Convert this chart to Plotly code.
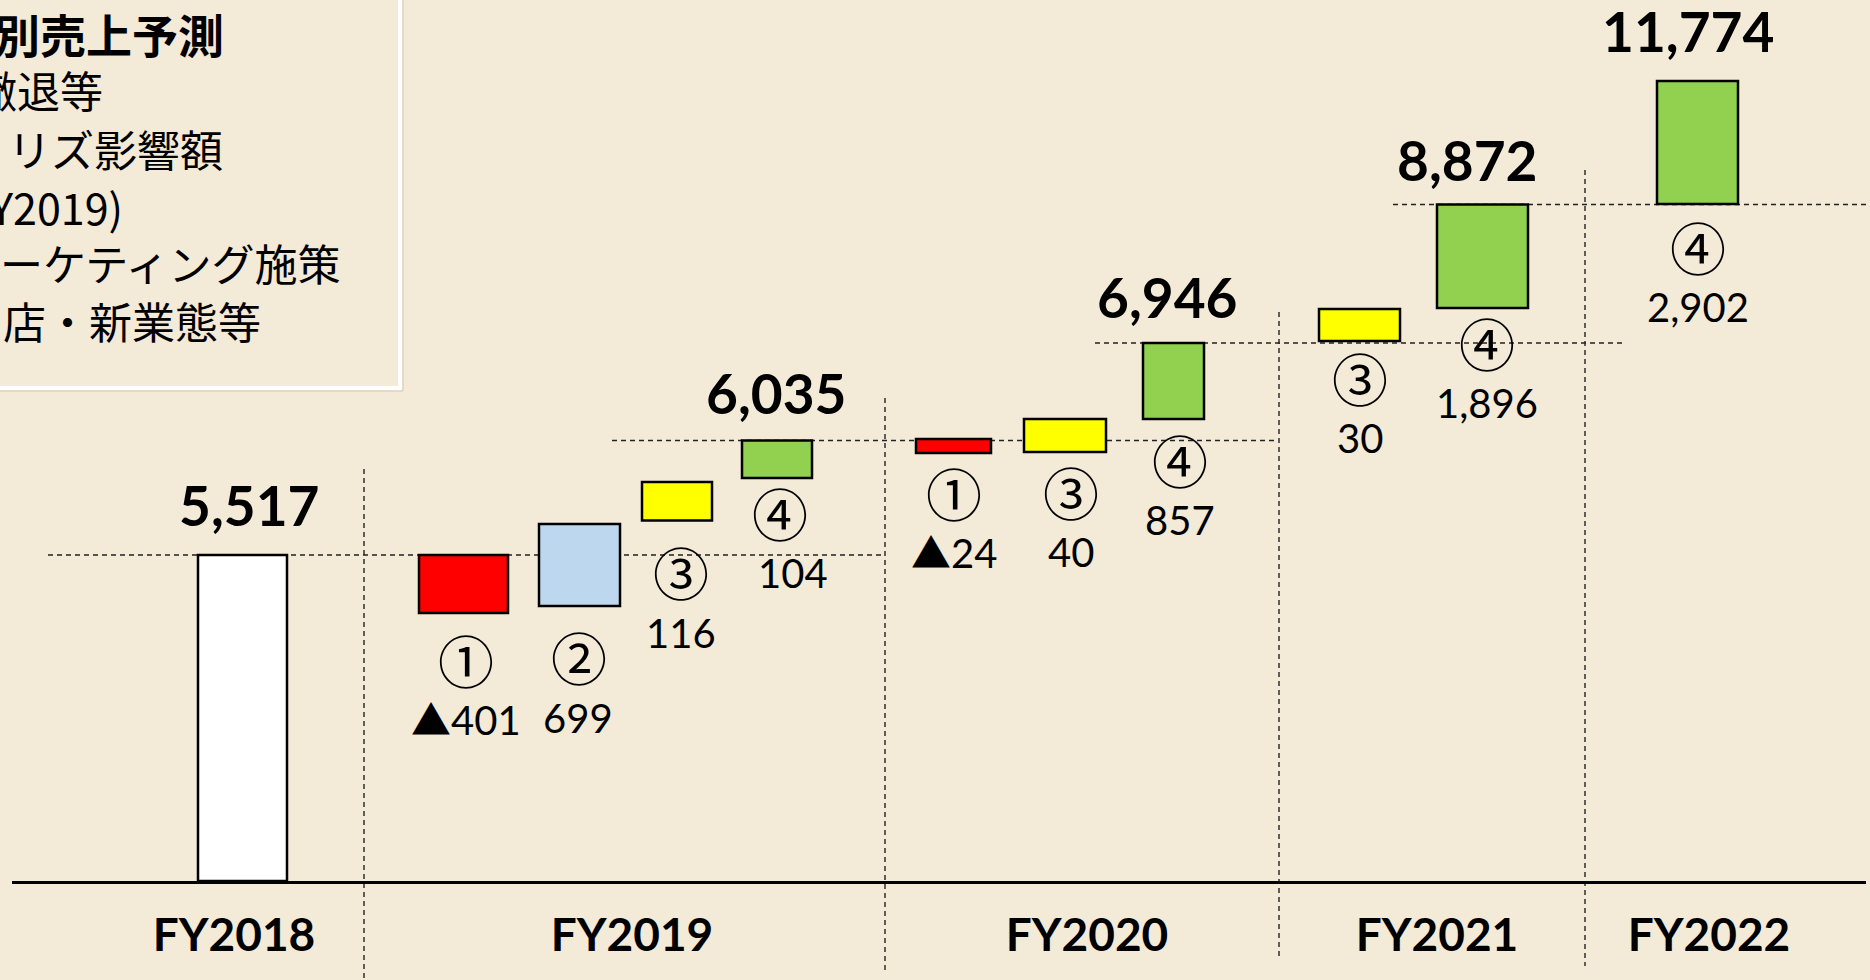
import plotly.graph_objects as go

# ---------------- data ----------------
groups = ["FY2018", "FY2019", "FY2020", "FY2021", "FY2022"]
totals = [5517, 6035, 6946, 8872, 11774]

step_group = ["FY2018", "FY2019", "FY2019", "FY2019", "FY2019",
              "FY2020", "FY2020", "FY2020", "FY2021", "FY2021", "FY2022"]
step_factor = ["", "①", "②", "③", "④", "①", "③", "④", "③", "④", "④"]
step_value = [5517, -401, 699, 116, 104, -24, 40, 857, 30, 1896, 2902]

# The slide is schematic (not to scale): bar extents as drawn
# on a scale calibrated by the FY2018 bar (baseline = 0, its top = 5,517)
drawn_low = [0, 4535, 4654, 6101, 6820, 7243, 7260, 7818, 9138, 9697, 11457]
drawn_high = [5517, 5517, 6042, 6752, 7455, 7480, 7818, 9105, 9680, 11448, 13538]

factor_colors = {"": "#FFFFFF", "①": "#FF0000", "②": "#BDD7EE",
                 "③": "#FFFF00", "④": "#92D050"}

legend_lines = ["<b>要因別売上予測</b>", "①撤退等", "リズ影響額", "(FY2019)",
                "③マーケティング施策", "④新規出店・新業態等"]

# ---------------- layout constants (pixels) ----------------
W, H = 1870, 980
ML, MR, MT, MB = 12, 4, 0, 99
PLOT_H = H - MT - MB
SCALE = drawn_high[0] / 326.0          # data units per pixel
def px2paper_x(px): return (px - ML) / (W - ML - MR)
def px2paper_y(py): return (H - MB - py) / PLOT_H

bar_cx = [242.5, 463.5, 579.5, 677, 777, 953.5, 1065, 1173.5, 1359.5, 1482.5, 1697.5]
bar_w = [89, 89, 81, 70, 70, 75, 82, 61, 81, 91, 81]
group_cx = [234, 632, 1087, 1437, 1709]

total_bar = [0, 4, 7, 9, 10]
total_cx = [249, 776, 1167, 1467, 1688]
total_shift = [50, 47.5, 46, 44.5, 50]

circ_dx = [0, 2.5, -0.5, 4, 3, 0, 6, 6.5, 0.5, 4.5, 0]
circ_off = [0, 45, 50, 50.5, 33, 38, 38, 39, 35, 33, 41]
val_dx = [0, 2.5, -1.5, 4, 16, 0.5, 6, 6.5, 0.5, 4.5, 0]
VAL_GAP = 62

connectors = [(0, 48, 885), (4, 612, 1277), (7, 1095, 1624), (9, 1393, 1870)]
separators = [(364, 469, 980), (885, 398, 972), (1279, 312, 957), (1585, 170, 966)]

legend_x = [-100, -71, 6, -50, -88, -171]
legend_y = [33, 89, 148, 206, 262, 320]
legend_size = [46, 43, 43, 43, 43, 43]

BG = "#F3EAD8"
NUM_FONT = "Lato, 'Noto Sans CJK JP', sans-serif"
JP_FONT = "'Noto Sans CJK JP', sans-serif"

fig = go.Figure()

fig.add_trace(go.Bar(
    x=bar_cx,
    y=[h - l for h, l in zip(drawn_high, drawn_low)],
    base=drawn_low,
    width=bar_w,
    marker=dict(color=[factor_colors[f] for f in step_factor],
                line=dict(color="black", width=2.5)),
    hoverinfo="skip",
    showlegend=False,
))

shapes = []
# dashed connector lines at each year's total level
for bi, x0, x1 in connectors:
    shapes.append(dict(type="line", xref="x", yref="y", layer="below",
                       x0=x0, x1=x1, y0=drawn_high[bi], y1=drawn_high[bi],
                       line=dict(color="#222222", width=1.4, dash="5px,4px")))
# dashed vertical year separators
for x, ytop, ybot in separators:
    shapes.append(dict(type="line", xref="paper", yref="paper", layer="below",
                       x0=px2paper_x(x), x1=px2paper_x(x),
                       y0=px2paper_y(ytop), y1=px2paper_y(ybot),
                       line=dict(color="#222222", width=1.4, dash="5px,4px")))
# legend box (partly off the slide)
shapes.append(dict(type="rect", xref="paper", yref="paper", layer="below",
                   x0=px2paper_x(-30), x1=px2paper_x(403), y0=px2paper_y(391), y1=px2paper_y(-30),
                   line=dict(color="#D2CABA", width=1)))
shapes.append(dict(type="rect", xref="paper", yref="paper", layer="below",
                   x0=px2paper_x(-30), x1=px2paper_x(400), y0=px2paper_y(388), y1=px2paper_y(-30),
                   line=dict(color="#FFFFFF", width=4)))

annotations = []
# totals
for g, t, bi, cx, sh in zip(groups, totals, total_bar, total_cx, total_shift):
    annotations.append(dict(x=cx, y=drawn_high[bi], xref="x", yref="y", yshift=sh,
                            text=f"<b>{t:,}</b>", showarrow=False,
                            xanchor="center", yanchor="middle",
                            font=dict(family=NUM_FONT, size=55, color="black")))
# factor number + change value
for i, (f, v) in enumerate(zip(step_factor, step_value)):
    if f == "":
        continue
    annotations.append(dict(x=bar_cx[i] + circ_dx[i], y=drawn_low[i], xref="x", yref="y",
                            yshift=-circ_off[i], text=f, showarrow=False,
                            xanchor="center", yanchor="middle",
                            font=dict(family=JP_FONT, size=56, color="black")))
    vtxt = f"▲{abs(v):,}" if v < 0 else f"{v:,}"
    annotations.append(dict(x=bar_cx[i] + val_dx[i], y=drawn_low[i], xref="x", yref="y",
                            yshift=-(circ_off[i] + VAL_GAP), text=vtxt, showarrow=False,
                            xanchor="center", yanchor="middle",
                            font=dict(family=NUM_FONT, size=40, color="black")))
# legend text
for t, lx, ly, ls in zip(legend_lines, legend_x, legend_y, legend_size):
    annotations.append(dict(x=px2paper_x(lx), y=px2paper_y(ly), xref="paper", yref="paper",
                            text=t, showarrow=False, xanchor="left", yanchor="middle",
                            font=dict(family=JP_FONT, size=ls, color="black")))

fig.update_layout(
    width=W, height=H,
    margin=dict(l=ML, r=MR, t=MT, b=MB, pad=0),
    paper_bgcolor=BG, plot_bgcolor=BG,
    shapes=shapes, annotations=annotations,
    bargap=0,
    xaxis=dict(range=[ML, W - MR], tickvals=group_cx,
               ticktext=[f"<b>{g}</b>" for g in groups],
               tickfont=dict(family=NUM_FONT, size=46, color="black"),
               showline=True, linecolor="black", linewidth=2.5,
               showgrid=False, zeroline=False, ticks="", ticklabelstandoff=12,
               fixedrange=True),
    yaxis=dict(range=[0, PLOT_H * SCALE], visible=False, showgrid=False,
               zeroline=False, fixedrange=True),
)

fig.write_html("out.html",
               config={"displayModeBar": False, "staticPlot": True},
               post_script="document.body.style.margin='0px';document.body.style.overflow='hidden';")
